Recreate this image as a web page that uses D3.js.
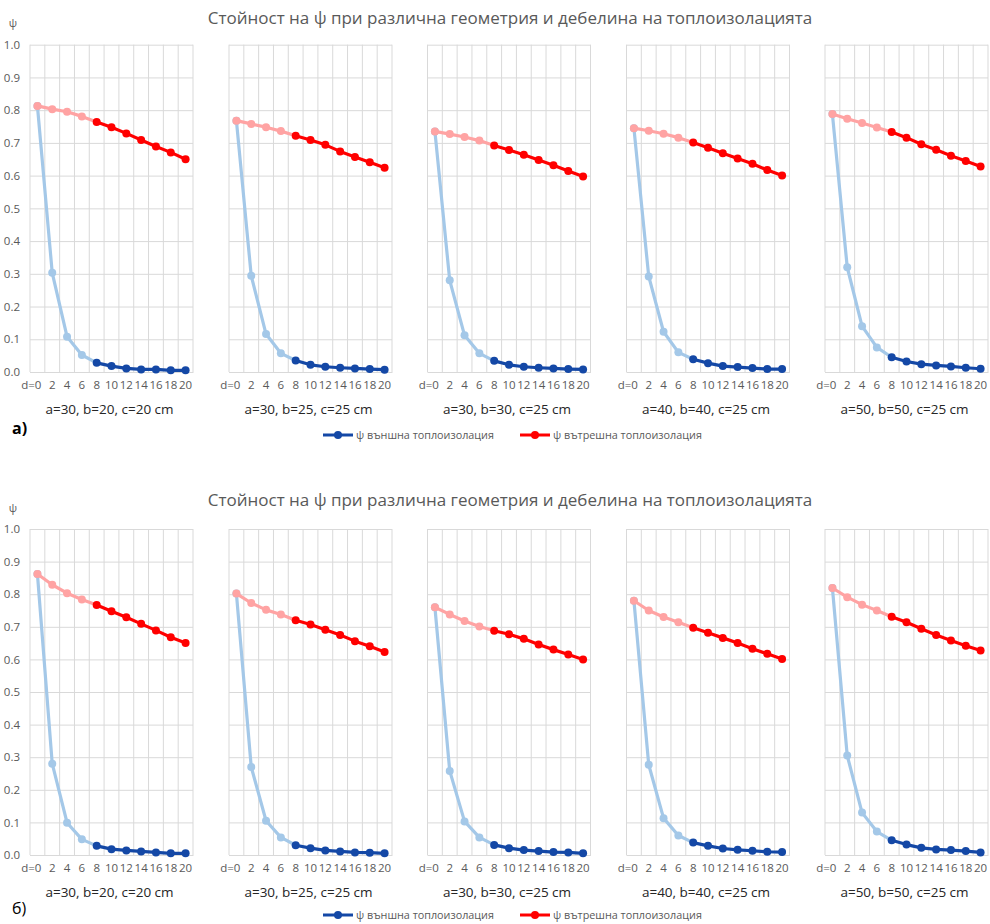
<!DOCTYPE html>
<html><head><meta charset="utf-8">
<script src="https://cdn.jsdelivr.net/npm/d3@7"></script>
<style>
body{margin:0;background:#fff;}
text{font-family:"Open Sans","Noto Sans",sans-serif;}
</style></head>
<body><svg id="c" width="990" height="924"></svg>
<script>
const categories = [0,2,4,6,8,10,12,14,16,18,20];
const xTickLabels = ["d=0","2","4","6","8","10","12","14","16","18","20"];
const yTicks = [0,0.1,0.2,0.3,0.4,0.5,0.6,0.7,0.8,0.9,1.0];
const panelTitles = ["a=30, b=20, c=20 cm","a=30, b=25, c=25 cm","a=30, b=30, c=25 cm","a=40, b=40, c=25 cm","a=50, b=50, c=25 cm"];
const chartTitle = "Стойност на ψ при различна геометрия и дебелина на топлоизолацията";
const seriesNames = ["ψ външна топлоизолация","ψ вътрешна топлоизолация"];
const chartLabels = ["а)","б)"];

// chart а) — external insulation
const extA = [
  [0.813,0.303,0.108,0.052,0.028,0.018,0.011,0.008,0.008,0.005,0.005],
  [0.768,0.294,0.116,0.057,0.035,0.022,0.016,0.013,0.011,0.009,0.007],
  [0.735,0.280,0.112,0.057,0.034,0.022,0.016,0.013,0.011,0.009,0.008],
  [0.745,0.292,0.123,0.060,0.039,0.027,0.018,0.015,0.012,0.009,0.009],
  [0.788,0.320,0.140,0.075,0.045,0.032,0.024,0.020,0.017,0.013,0.010]
];
// chart а) — internal insulation
const intA = [
  [0.813,0.803,0.795,0.781,0.764,0.748,0.729,0.709,0.689,0.671,0.650],
  [0.768,0.758,0.748,0.736,0.722,0.709,0.694,0.674,0.657,0.641,0.624],
  [0.735,0.727,0.718,0.707,0.692,0.678,0.664,0.648,0.632,0.614,0.597],
  [0.745,0.737,0.728,0.716,0.701,0.685,0.668,0.652,0.636,0.617,0.600],
  [0.788,0.774,0.761,0.747,0.733,0.716,0.696,0.679,0.661,0.645,0.628]
];
// chart б) — external insulation
const extB = [
  [0.862,0.280,0.099,0.048,0.028,0.018,0.014,0.011,0.008,0.005,0.005],
  [0.802,0.270,0.105,0.054,0.030,0.021,0.014,0.011,0.008,0.007,0.005],
  [0.760,0.258,0.103,0.054,0.031,0.021,0.015,0.012,0.009,0.008,0.005],
  [0.780,0.277,0.113,0.060,0.038,0.028,0.020,0.016,0.013,0.010,0.009],
  [0.819,0.305,0.130,0.072,0.045,0.032,0.022,0.017,0.015,0.012,0.008]
];
// chart б) — internal insulation
const intB = [
  [0.862,0.829,0.803,0.784,0.767,0.748,0.729,0.709,0.689,0.668,0.650],
  [0.802,0.773,0.752,0.738,0.720,0.707,0.691,0.675,0.656,0.640,0.623],
  [0.760,0.738,0.718,0.701,0.688,0.677,0.663,0.646,0.630,0.615,0.600],
  [0.780,0.750,0.730,0.714,0.697,0.682,0.666,0.650,0.633,0.617,0.601],
  [0.819,0.791,0.768,0.750,0.731,0.714,0.694,0.675,0.658,0.642,0.627]
];

const svg = d3.select("#c");
const panelX = [30, 229, 427.5, 626.5, 825];
const panelW = 163;
const splitIdx = 4; // index of d=8

const colors = {
  extLight:"#a4c8e8", extDark:"#1448a6",
  intLight:"#ffa3a3", intDark:"#ff0000"
};

function drawChart(cfg){
  const g = svg.append("g");
  g.append("text").attr("x",510).attr("y",cfg.titleY).attr("text-anchor","middle")
    .attr("font-size","17px").attr("fill","#595959").text(chartTitle);
  g.append("text").attr("x",13).attr("y",cfg.psiY).attr("text-anchor","middle")
    .attr("font-size","11px").attr("fill","#595959").text("ψ");

  const y = d3.scaleLinear().domain([0,1]).range([cfg.y0, cfg.y1]);

  cfg.ext.forEach((ext,i)=>{
    const intr = cfg.int[i];
    const x = d3.scaleBand().domain(categories).range([panelX[i], panelX[i]+panelW]).padding(0);
    const pg = g.append("g");
    pg.append("g").attr("transform",`translate(${panelX[i]},0)`)
      .call(d3.axisLeft(y).tickValues(yTicks).tickSize(-panelW).tickFormat(""))
      .call(s=>s.select(".domain").remove())
      .call(s=>s.selectAll("line").attr("stroke","#d9d9d9").attr("stroke-width",1));
    const edges = categories.map(c=>x(c)).concat([x(categories[categories.length-1])+x.bandwidth()]);
    pg.selectAll("line.v").data(edges).join("line").attr("class","v")
      .attr("x1",d=>d).attr("x2",d=>d).attr("y1",y(1)).attr("y2",y(0))
      .attr("stroke","#d9d9d9").attr("stroke-width",1);
    pg.append("g").attr("transform",`translate(0,${y(0)})`)
      .call(d3.axisBottom(x).tickSize(0).tickPadding(9).tickFormat((d,k)=>xTickLabels[k]))
      .call(s=>s.select(".domain").attr("stroke","#d9d9d9"))
      .call(s=>s.selectAll("text").attr("font-size","11.5px").attr("fill","#595959")
        .attr("font-family","'Open Sans',sans-serif"))
      .call(s=>s.selectAll(".tick").filter((d,k)=>k===0).select("text")
        .attr("text-anchor","end").attr("dx","4"));
    if(i===0){
      pg.append("g").attr("transform",`translate(${panelX[0]},0)`)
        .call(d3.axisLeft(y).tickValues(yTicks).tickSize(0).tickPadding(10).tickFormat(d3.format(".1f")))
        .call(s=>s.select(".domain").remove())
        .call(s=>s.selectAll("text").attr("font-size","11.5px").attr("fill","#595959")
          .attr("font-family","'Open Sans',sans-serif"));
    }
    pg.append("text").attr("x",panelX[i]+panelW/2 - 2).attr("y",cfg.subY).attr("text-anchor","middle")
      .attr("font-size","13.5px").attr("fill","#262626").text(panelTitles[i]);

    const cx = k => x(categories[k]) + x.bandwidth()/2;
    const line = d3.line().x(d=>cx(d.k)).y(d=>y(d.v));
    const drawSeries = (vals, light, dark)=>{
      const pts = vals.map((v,k)=>({k,v}));
      pg.append("path").datum(pts.slice(0,splitIdx+1)).attr("d",line)
        .attr("fill","none").attr("stroke",light).attr("stroke-width",3.2).attr("stroke-linejoin","round");
      pg.append("path").datum(pts.slice(splitIdx)).attr("d",line)
        .attr("fill","none").attr("stroke",dark).attr("stroke-width",3.2).attr("stroke-linejoin","round");
      pg.selectAll(null).data(pts).join("circle")
        .attr("cx",d=>cx(d.k)).attr("cy",d=>y(d.v)).attr("r",4)
        .attr("fill",d=>d.k<splitIdx?light:dark);
    };
    drawSeries(ext, colors.extLight, colors.extDark);
    drawSeries(intr, colors.intLight, colors.intDark);
  });

  g.append("text").attr("x",12).attr("y",cfg.labelY).attr("font-family","'Liberation Serif',serif")
    .attr("font-size","16px").attr("font-weight",cfg.labelBold?"bold":"normal").attr("fill","#000").text(cfg.label);

  const leg = [{x:323, c:colors.extDark, t:seriesNames[0]},{x:520, c:colors.intDark, t:seriesNames[1]}];
  leg.forEach(l=>{
    g.append("line").attr("x1",l.x).attr("x2",l.x+30).attr("y1",cfg.legY).attr("y2",cfg.legY)
      .attr("stroke",l.c).attr("stroke-width",3);
    g.append("circle").attr("cx",l.x+15).attr("cy",cfg.legY).attr("r",4).attr("fill",l.c);
    g.append("text").attr("x",l.x+33).attr("y",cfg.legY+4).attr("font-size","10.8px").attr("fill","#595959").text(l.t);
  });
}

drawChart({ext:extA, int:intA, y0:372, y1:44.7, titleY:24, psiY:27, subY:414, labelY:434, labelBold:true, label:chartLabels[0], legY:435});
drawChart({ext:extB, int:intB, y0:855, y1:529, titleY:506, psiY:512, subY:897, labelY:914, labelBold:false, label:chartLabels[1], legY:915});
</script></body></html>
